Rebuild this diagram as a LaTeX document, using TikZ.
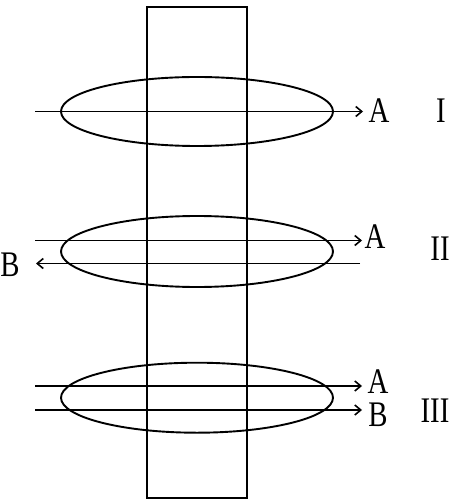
\documentclass[tikz,border=0pt]{standalone}
\usepackage{fontspec}
\setmainfont[FakeStretch=0.8]{Liberation Serif}
\usetikzlibrary{arrows.meta}
\begin{document}
\begin{tikzpicture}[x=1pt,y=-1pt,
  wire/.style={line width=1.8pt},
  ring/.style={line width=1.9pt},
  flow/.style={line width=1.9pt,-{Straight Barb[length=6pt,width=10pt,line width=1.6pt]}},
  lbl/.style={inner sep=0pt,font=\fontsize{36}{36}\selectfont}]
\useasboundingbox (0,0) rectangle (452,502);
% core
\draw[wire] (147,7) rectangle (247,498);
% loop I
\draw[ring] (197,111.5) ellipse [x radius=136, y radius=34.5];
\coordinate (s1) at (35,111.5);
\coordinate (e1) at (363,111.5);
\draw[flow] (s1) -- (e1);
\node[lbl] (a1) at (379,111) {A};
\node[lbl] (n1) at (441,111) {I};
% loop II
\draw[ring] (197,251.5) ellipse [x radius=136, y radius=35.5];
\coordinate (s2a) at (35,240.5);
\coordinate (e2a) at (362,240.5);
\draw[flow] (s2a) -- (e2a);
\coordinate (s2b) at (360,263.5);
\coordinate (e2b) at (36,263.5);
\draw[flow] (s2b) -- (e2b);
\node[lbl] (a2) at (375,237) {A};
\node[lbl] (b2) at (10,265) {B};
\node[lbl] (n2) at (440,249) {II};
% loop III
\draw[ring] (197,397.7) ellipse [x radius=136, y radius=35];
\coordinate (s3a) at (35,386);
\coordinate (e3a) at (362,386);
\draw[flow] (s3a) -- (e3a);
\coordinate (s3b) at (35,410);
\coordinate (e3b) at (362,410);
\draw[flow] (s3b) -- (e3b);
\node[lbl] (a3) at (378,382) {A};
\node[lbl] (b3) at (378,415) {B};
\node[lbl] (n3) at (435,411) {III};
\end{tikzpicture}
\end{document}
